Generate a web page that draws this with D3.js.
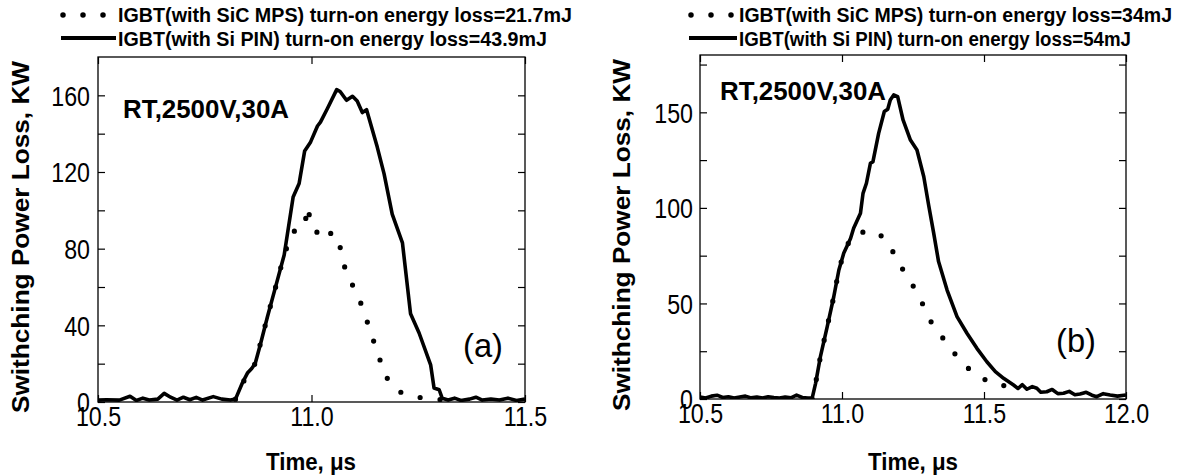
<!DOCTYPE html>
<html><head><meta charset="utf-8">
<script src="https://cdn.jsdelivr.net/npm/d3@7"></script>
<style>
body{margin:0;background:#fff;}
svg{display:block;font-family:"Liberation Sans",Arial,Helvetica,sans-serif;}
</style></head><body>
<svg id="c" width="1184" height="475"></svg>
<script>
// ---------------- data ----------------
const xTicksA = [10.5, 11.0, 11.5];
const yTicksA = [0, 20, 40, 60, 80, 100, 120, 140, 160];
const yLabelsA = [0, 40, 80, 120, 160];
const xTicksB = [10.5, 11.0, 11.5, 12.0];
const yTicksB = [0, 25, 50, 75, 100, 125, 150, 175];
const yLabelsB = [0, 50, 100, 150];

const legendA = ["IGBT(with SiC MPS) turn-on energy loss=21.7mJ", "IGBT(with Si PIN) turn-on energy loss=43.9mJ"];
const legendB = ["IGBT(with SiC MPS) turn-on energy loss=34mJ", "IGBT(with Si PIN) turn-on energy loss=54mJ"];
const condText = "RT,2500V,30A";
const yTitle = "Swithching Power Loss, KW";
const xTitle = "Time, \u03bcs";

// (a) Si PIN, solid
const aPinT = [10.50,10.52,10.55,10.575,10.59,10.605,10.62,10.64,10.655,10.67,10.685,10.70,10.715,10.73,10.745,10.77,10.79,10.81,10.822,10.838,10.850,10.860,10.868,10.881,10.897,10.916,10.936,10.957,10.971,10.984,10.998,11.014,11.021,11.037,11.059,11.067,11.082,11.096,11.107,11.119,11.129,11.154,11.170,11.189,11.213,11.232,11.252,11.279,11.287,11.299,11.306,11.32,11.335,11.35,11.37,11.385,11.40,11.42,11.44,11.46,11.48,11.50];
const aPinP = [1.0,1.2,1.0,3.0,0.8,2.0,1.0,1.5,4.5,2.5,1.0,2.5,1.2,2.4,1.0,2.8,1.5,1.0,1.5,9.9,15.1,17.5,20,30.7,44.6,60.2,76.7,107,114,131,135.7,144,146,153,163,162,157.4,159.5,157,151,152.5,133,119,98,83,46,36,19.4,7.3,6.4,2,1.0,2.0,0.8,1.5,2.5,1.0,1.6,1.0,2.0,0.8,1.5];
// (a) SiC MPS, dotted
const aMpsT = [10.822,10.850,10.868,10.881,10.897,10.916,10.936,10.955,10.982,10.992,10.998,11.029,11.049,11.072,11.080,11.105,11.123,11.139,11.156,11.171,11.201,11.252,11.302];
const aMpsP = [1.5,15,20,31,44.6,60,76.7,88.8,90.6,101.9,92.3,84.5,88.8,78.4,67.2,57.6,47.2,35.9,25.2,14.2,5.6,2.4,1.2];

// (b) Si PIN, solid
const bPinT = [10.50,10.52,10.54,10.56,10.58,10.60,10.62,10.64,10.66,10.68,10.70,10.72,10.74,10.76,10.78,10.80,10.82,10.84,10.86,10.88,10.895,10.907,10.924,10.948,10.971,10.989,11.006,11.030,11.041,11.065,11.074,11.086,11.100,11.109,11.129,11.149,11.161,11.170,11.182,11.196,11.215,11.241,11.264,11.288,11.305,11.323,11.340,11.370,11.405,11.440,11.475,11.510,11.540,11.569,11.604,11.62,11.635,11.651,11.67,11.686,11.70,11.721,11.74,11.76,11.78,11.80,11.82,11.838,11.86,11.88,11.897,11.92,11.944,11.97,12.0];
const bPinP = [1.0,0.5,1.5,2.0,0.8,1.2,0.5,1.0,1.5,0.6,1.0,0.5,1.2,0.8,0.5,1.0,0.6,2.0,0.8,0.5,0.5,8.2,22.2,37.9,53.5,67.5,76.2,84,89.3,97.2,107.6,112.9,123.3,124.2,139,150.4,151.6,156.5,159.1,158.2,146,135.5,130.3,116.3,101.5,86.7,71.9,57,43.1,34.4,26.5,19.5,14.3,10.8,7.3,5.5,7.5,5.1,6.5,5.6,3.5,3.8,5.0,2.8,3.0,4.0,2.2,2.6,3.5,2.0,1.2,2.8,2.1,1.5,2.1];
// (b) SiC MPS, dotted
const bMpsT = [10.895,10.907,10.924,10.948,10.971,10.989,11.006,11.030,11.053,11.090,11.123,11.164,11.200,11.244,11.284,11.319,11.370,11.420,11.463,11.522,11.586];
const bMpsP = [0,8.2,22.2,37.9,53.5,67.5,76.2,84,87,87.5,87.6,81.5,71,61,49.7,38.7,29.1,19.2,13.8,8.5,6.5];

// ---------------- drawing ----------------
const svg = d3.select("#c");
svg.append("rect").attr("width",1184).attr("height",475).attr("fill","#fff");

function squeeze(sel, len){
  sel.attr("textLength", len).attr("lengthAdjust","spacingAndGlyphs");
}
// tall, narrow glyphs as in the reference: draw big, then compress the width
function narrow(sel, k){
  sel.each(function(){
    const n = this.getComputedTextLength();
    if (n > 0) d3.select(this).attr("textLength", n*k).attr("lengthAdjust","spacingAndGlyphs");
  });
}

function panel(cfg){
  const x = d3.scaleLinear().domain(cfg.xDom).range([cfg.left, cfg.right]);
  const y = d3.scaleLinear().domain([0,180]).range([cfg.bottom, cfg.top]);
  const g = svg.append("g");
  const tk = 7;
  const yFmt = d => cfg.yLabels.includes(d) ? String(d) : "";
  const xFmt = d3.format(".1f");

  const ax = (gen, tr) => {
    const a = g.append("g").attr("transform", tr).call(gen);
    a.select(".domain").remove();
    a.selectAll("line").attr("stroke","#000").attr("stroke-width",1.2);
    a.selectAll("text").attr("fill","#000").style("font-size","27px").style("font-family","'Liberation Sans',Arial,sans-serif");
    return a;
  };
  const ly = ax(d3.axisLeft(y).tickValues(cfg.yTicks).tickSizeInner(-tk).tickSizeOuter(0).tickPadding(cfg.yPad).tickFormat(yFmt), `translate(${cfg.left},0)`);
  ly.selectAll("text").attr("dy","0.36em");
  narrow(ly.selectAll("text"), 0.86);
  ax(d3.axisRight(y).tickValues(cfg.yTicks).tickSizeInner(-tk).tickSizeOuter(0).tickFormat(""), `translate(${cfg.right},0)`);
  const bx = ax(d3.axisBottom(x).tickValues(cfg.xTicks).tickSizeInner(-tk).tickSizeOuter(0).tickPadding(6).tickFormat(xFmt), `translate(0,${cfg.bottom})`);
  bx.selectAll("text").attr("dy","0.71em").attr("y",5);
  narrow(bx.selectAll("text"), 0.86);
  ax(d3.axisTop(x).tickValues(cfg.xTicks).tickSizeInner(-tk).tickSizeOuter(0).tickFormat(""), `translate(0,${cfg.top})`);

  g.append("rect").attr("x",cfg.left).attr("y",cfg.top).attr("width",cfg.right-cfg.left).attr("height",cfg.bottom-cfg.top)
    .attr("fill","none").attr("stroke","#000").attr("stroke-width",1.3);

  const line = d3.line().x(d=>x(d[0])).y(d=>y(d[1]));
  const clipId = "clip"+cfg.id;
  svg.append("clipPath").attr("id",clipId).append("rect")
    .attr("x",cfg.left).attr("y",cfg.top-3).attr("width",cfg.right-cfg.left).attr("height",cfg.bottom-cfg.top+3);
  const pg = g.append("g").attr("clip-path",`url(#${clipId})`);
  pg.append("path").datum(d3.zip(cfg.mpsT,cfg.mpsP)).attr("d",line)
    .attr("fill","none").attr("stroke","#000").attr("stroke-width",5.2)
    .attr("stroke-linecap","round").attr("stroke-dasharray","0 20");
  pg.append("path").datum(d3.zip(cfg.pinT,cfg.pinP)).attr("d",line)
    .attr("fill","none").attr("stroke","#000").attr("stroke-width",3.6).attr("stroke-linejoin","round");

  // condition text
  const ct = g.append("text").attr("x",cfg.condX).attr("y",cfg.condY).text(condText)
    .style("font-size","25px").style("font-weight","bold");
  squeeze(ct, 166);
  // panel letter
  const lt = g.append("text").attr("x",cfg.letX).attr("y",cfg.letY).text(cfg.letter).style("font-size","33px");
  squeeze(lt, 40);

  // axis titles
  const xt = g.append("text").attr("x",cfg.xtX).attr("y",470).attr("text-anchor","middle").text(xTitle)
    .style("font-size","23px").style("font-weight","bold");
  squeeze(xt, 90);
  const yt = g.append("text").attr("transform",`translate(${cfg.ytX},${cfg.ytY}) rotate(-90)`)
    .attr("text-anchor","middle").text(yTitle).style("font-size","23px").style("font-weight","bold");
  squeeze(yt, 352);

  // legend
  const lg = g.append("g");
  lg.append("line").attr("x1",cfg.lgX0).attr("x2",cfg.lgX0+42).attr("y1",15).attr("y2",15)
    .attr("stroke","#000").attr("stroke-width",5.5).attr("stroke-linecap","round").attr("stroke-dasharray","0 20");
  lg.append("line").attr("x1",cfg.lgX0-2).attr("x2",cfg.lgTx-2).attr("y1",38).attr("y2",38)
    .attr("stroke","#000").attr("stroke-width",3.8);
  cfg.legend.forEach((t,i)=>{
    const tx = lg.append("text").attr("x",cfg.lgTx).attr("y",i?46:22).text(t)
      .style("font-size","20px").style("font-weight","bold");
    squeeze(tx, cfg.lgLen[i]);
  });
}

panel({id:"a", xDom:[10.5,11.5], left:98, right:525, top:57, bottom:402,
  xTicks:xTicksA, yTicks:yTicksA, yLabels:yLabelsA, yPad:8,
  pinT:aPinT, pinP:aPinP, mpsT:aMpsT, mpsP:aMpsP,
  condX:123, condY:118, letter:"(a)", letX:463, letY:357,
  xtX:311, ytX:29, ytY:237,
  legend:legendA, lgX0:63, lgTx:118, lgLen:[454,429]});

panel({id:"b", xDom:[10.5,12.0], left:700, right:1126, top:55, bottom:399,
  xTicks:xTicksB, yTicks:yTicksB, yLabels:yLabelsB, yPad:7,
  pinT:bPinT, pinP:bPinP, mpsT:bMpsT, mpsP:bMpsP,
  condX:720, condY:100, letter:"(b)", letX:1056, letY:352,
  xtX:913, ytX:630, ytY:235,
  legend:legendB, lgX0:691, lgTx:739, lgLen:[433,392]});
</script>
</body></html>
